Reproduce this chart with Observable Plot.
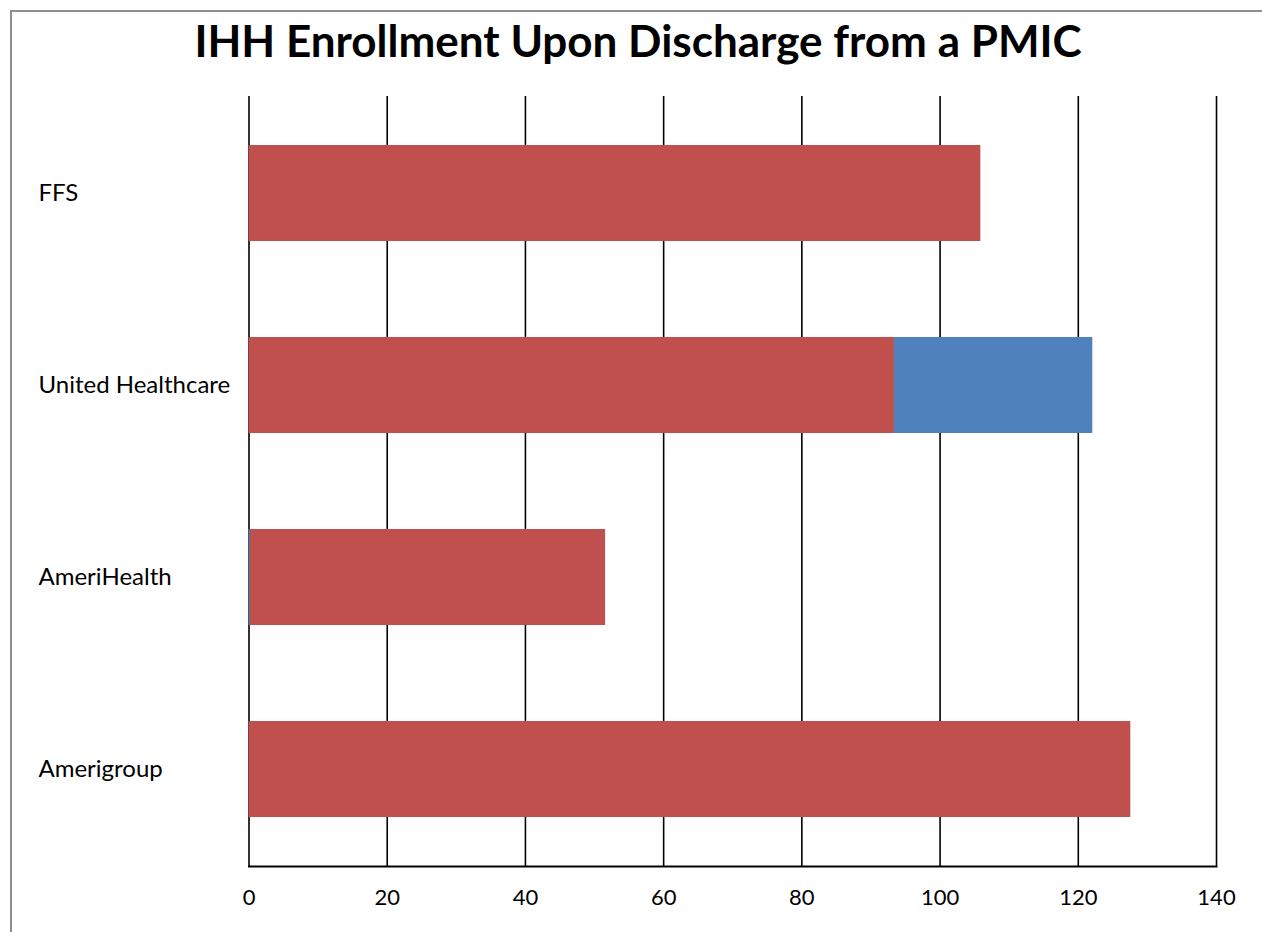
<!DOCTYPE html>
<html>
<head>
<meta charset="utf-8">
<script src="https://cdn.jsdelivr.net/npm/d3@7"></script>
<script src="https://cdn.jsdelivr.net/npm/@observablehq/plot@0.6"></script>
<style>
  html, body { margin: 0; padding: 0; background: #fff; overflow: hidden; }
  #wrap { position: relative; width: 1262px; height: 932px; overflow: hidden; font-family: Lato, "Open Sans", sans-serif; }
  #frame { position: absolute; left: 10px; top: 10px; width: 1400px; height: 1000px; border: 2px solid #8e8e8e; box-sizing: border-box; }
  #title { position: absolute; left: 0; top: 15px; width: 1276px; text-align: center; font-size: 44px; font-weight: bold; color: #000; line-height: 50px; white-space: nowrap; }
  #chart { position: absolute; left: 0; top: 86px; }
</style>
</head>
<body>
<div id="wrap">
  <div id="frame"></div>
  <div id="title">IHH Enrollment Upon Discharge from a PMIC</div>
  <div id="chart"></div>
</div>
<script>
const categories = ["FFS", "United Healthcare", "AmeriHealth", "Amerigroup"];
const blueLeadValues = [0, 0, 0.2, 0];
const redValues = [105.9, 93.4, 51.4, 127.6];
const blueValues = [0, 28.7, 0, 0];
const xTicks = [0, 20, 40, 60, 80, 100, 120, 140];

const RED = "#C0504D";
const BLUE = "#4F81BD";

const rows = [];
categories.forEach((c, i) => {
  rows.push({cat: c, series: "lead", value: blueLeadValues[i]});
  rows.push({cat: c, series: "red", value: redValues[i]});
  rows.push({cat: c, series: "blue", value: blueValues[i]});
});

const chart = Plot.plot({
  width: 1262,
  height: 846,
  marginTop: 10,
  marginBottom: 66,
  marginLeft: 248.5,
  marginRight: 46,
  style: {fontFamily: "Lato, 'Open Sans', sans-serif", fontSize: "22px", color: "#000", background: "transparent"},
  x: {domain: [0, 140], ticks: xTicks},
  y: {domain: categories, paddingInner: 0.5, paddingOuter: 0.25},
  color: {domain: ["lead", "red", "blue"], range: [BLUE, RED, BLUE]},
  marks: [
    Plot.ruleX(xTicks, {stroke: "#000", strokeWidth: 1.6}),
    Plot.barX(rows, Plot.stackX({x: "value", y: "cat", fill: "series", order: null})),
    Plot.frame({anchor: "bottom", stroke: "#000", strokeWidth: 2}),
    Plot.axisX(xTicks, {tickSize: 0, tickPadding: 23, label: null, fontSize: 22}),
    Plot.axisY({tickSize: 0, textAnchor: "start", dx: -201.5, label: null, fontSize: 24})
  ]
});
document.getElementById("chart").appendChild(chart);
</script>
</body>
</html>
